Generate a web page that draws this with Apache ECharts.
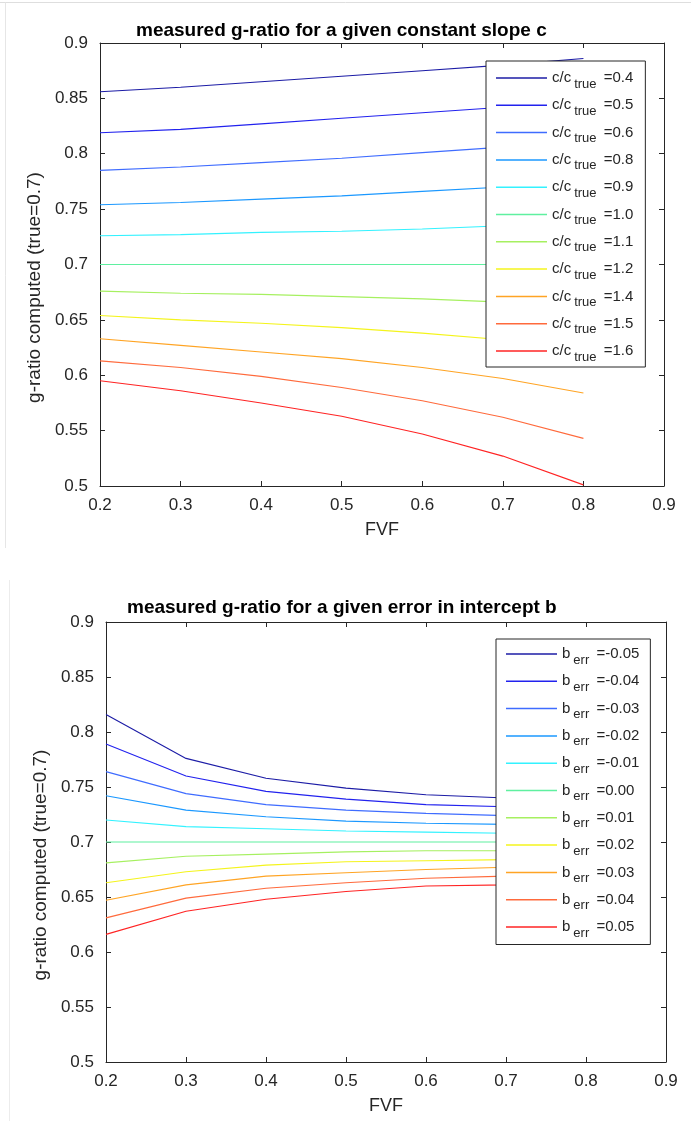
<!DOCTYPE html>
<html>
<head>
<meta charset="utf-8">
<title>measured g-ratio</title>
<script src="https://cdn.jsdelivr.net/npm/echarts@6/dist/echarts.min.js"></script>
<style>
  html, body { margin: 0; padding: 0; background: #fff; }
  #chart { width: 691px; height: 1121px; }
</style>
</head>
<body>
<div id="chart"></div>
<script>
// x positions (FVF) shared by both panels
const fvf = [0.2, 0.3, 0.4, 0.5, 0.6, 0.7, 0.8]
const xTicks = [0.2, 0.3, 0.4, 0.5, 0.6, 0.7, 0.8, 0.9]
const yTicks = [0.5, 0.55, 0.6, 0.65, 0.7, 0.75, 0.8, 0.85, 0.9]

// top panel: constant slope c
const slopeLabels = ['0.4', '0.5', '0.6', '0.8', '0.9', '1.0', '1.1', '1.2', '1.4', '1.5', '1.6']
const slopeValues = [
  [0.856, 0.860, 0.865, 0.870, 0.875, 0.880, 0.886],
  [0.819, 0.822, 0.827, 0.832, 0.837, 0.842, 0.848],
  [0.785, 0.788, 0.792, 0.796, 0.801, 0.806, 0.811],
  [0.754, 0.756, 0.759, 0.762, 0.766, 0.770, 0.774],
  [0.726, 0.727, 0.729, 0.730, 0.732, 0.735, 0.737],
  [0.700, 0.700, 0.700, 0.700, 0.700, 0.700, 0.700],
  [0.676, 0.674, 0.673, 0.671, 0.669, 0.666, 0.663],
  [0.654, 0.650, 0.647, 0.643, 0.638, 0.632, 0.626],
  [0.633, 0.627, 0.621, 0.615, 0.607, 0.597, 0.584],
  [0.613, 0.607, 0.599, 0.589, 0.577, 0.562, 0.543],
  [0.595, 0.586, 0.575, 0.563, 0.547, 0.527, 0.501]
]

// bottom panel: error in intercept b
const interceptLabels = ['-0.05', '-0.04', '-0.03', '-0.02', '-0.01', '0.00', '0.01', '0.02', '0.03', '0.04', '0.05']
const interceptValues = [
  [0.816, 0.776, 0.758, 0.749, 0.743, 0.740, 0.737],
  [0.789, 0.760, 0.746, 0.739, 0.734, 0.732, 0.730],
  [0.764, 0.744, 0.734, 0.729, 0.726, 0.724, 0.723],
  [0.742, 0.729, 0.723, 0.719, 0.717, 0.716, 0.715],
  [0.720, 0.714, 0.712, 0.710, 0.709, 0.708, 0.707],
  [0.700, 0.700, 0.700, 0.700, 0.700, 0.700, 0.700],
  [0.681, 0.687, 0.689, 0.691, 0.692, 0.692, 0.693],
  [0.663, 0.673, 0.679, 0.682, 0.683, 0.684, 0.685],
  [0.647, 0.661, 0.669, 0.672, 0.675, 0.677, 0.678],
  [0.631, 0.649, 0.658, 0.663, 0.667, 0.669, 0.671],
  [0.616, 0.637, 0.648, 0.655, 0.660, 0.661, 0.663]
]

// jet-like colours, one per curve
const jetColors = ['#1c1ca6', '#2222ee', '#3f6cff', '#1b98ff', '#33f2ff', '#5ff0a0',
  '#a6f060', '#f4f41c', '#ffa424', '#ff6a3c', '#ff2424']

const font = '"Liberation Sans", Arial, sans-serif'
const ink = '#262626'

const chart = echarts.init(document.getElementById('chart'))

function xAxes(gridIndex) {
  const base = {
    gridIndex: gridIndex,
    type: 'value',
    min: xTicks[0],
    max: xTicks[xTicks.length - 1],
    interval: 0.1,
    axisLine: { lineStyle: { color: ink, width: 1 } },
    axisTick: { inside: true, length: 5, lineStyle: { color: ink } },
    splitLine: { show: false }
  }
  return [
    Object.assign({}, base, {
      position: 'bottom',
      axisLabel: { color: ink, fontSize: 17, fontFamily: font, margin: 11 },
      name: 'FVF',
      nameLocation: 'middle',
      nameGap: 35,
      nameTextStyle: { color: ink, fontSize: 18, fontFamily: font }
    }),
    Object.assign({}, base, { position: 'top', axisLabel: { show: false } })
  ]
}

function yAxes(gridIndex, nameGap) {
  const base = {
    gridIndex: gridIndex,
    type: 'value',
    min: yTicks[0],
    max: yTicks[yTicks.length - 1],
    interval: 0.05,
    axisLine: { show: true, lineStyle: { color: ink, width: 1 } },
    axisTick: { show: true, inside: true, length: 5, lineStyle: { color: ink } },
    splitLine: { show: false }
  }
  return [
    Object.assign({}, base, {
      position: 'left',
      axisLabel: { color: ink, fontSize: 17, fontFamily: font, margin: 12 },
      name: 'g-ratio computed (true=0.7)',
      nameLocation: 'middle',
      nameGap: nameGap,
      nameTextStyle: { color: ink, fontSize: 19, fontFamily: font, padding: [0, 46, 0, 0] }
    }),
    Object.assign({}, base, { position: 'right', axisLabel: { show: false } })
  ]
}

function lineSeries(names, values, axisIndex) {
  return values.map((row, i) => ({
    name: names[i],
    type: 'line',
    xAxisIndex: axisIndex,
    yAxisIndex: axisIndex,
    symbol: 'none',
    color: jetColors[i],
    lineStyle: { width: 1.1, color: jetColors[i] },
    data: row.map((v, k) => [fvf[k], v])
  }))
}

const richText = {
  m: { fontSize: 15, fontFamily: font, color: ink },
  s: { fontSize: 13, fontFamily: font, color: ink, padding: [12, 3, 0, 3] }
}

function legendBox(names, left, top, main, sub, padding) {
  return {
    orient: 'vertical',
    left: left,
    top: top,
    data: names,
    icon: 'rect',
    itemWidth: 51,
    itemHeight: 1.5,
    itemGap: 7.3,
    padding: padding,
    backgroundColor: '#fff',
    borderColor: ink,
    borderWidth: 1,
    borderRadius: 0,
    textStyle: { rich: richText },
    formatter: name => '{m|' + main + '}{s|' + sub + '}{m| =' + name.split('=')[1] + '}'
  }
}

const slopeNames = slopeLabels.map(l => 'c/c true =' + l)
const interceptNames = interceptLabels.map(l => 'b err =' + l)

chart.setOption({
  animation: false,
  backgroundColor: '#fff',
  title: [
    {
      text: 'measured g-ratio for a given constant slope c',
      left: 136,
      top: 21,
      padding: 0,
      textStyle: { fontSize: 19, fontWeight: 'bold', color: '#000', fontFamily: font }
    },
    {
      text: 'measured g-ratio for a given error in intercept b',
      left: 127,
      top: 598,
      padding: 0,
      textStyle: { fontSize: 19, fontWeight: 'bold', color: '#000', fontFamily: font }
    }
  ],
  grid: [
    { left: 100, top: 43, width: 564, height: 443 },
    { left: 106, top: 622, width: 560, height: 440 }
  ],
  xAxis: xAxes(0).concat(xAxes(1)),
  yAxis: yAxes(0, 43).concat(yAxes(1, 45)),
  legend: [
    legendBox(slopeNames, 486, 61, 'c/c', 'true', [9.5, 12, 3.5, 10]),
    legendBox(interceptNames, 496, 639, 'b', 'err', [7.5, 11, 5, 10])
  ],
  series: lineSeries(slopeNames, slopeValues, 0).concat(lineSeries(interceptNames, interceptValues, 2)),
  // faint frame of the original screenshot
  graphic: [
    { type: 'line', shape: { x1: 0, y1: 2.5, x2: 691, y2: 2.5 }, style: { stroke: '#dedede', lineWidth: 1 } },
    { type: 'line', shape: { x1: 5.5, y1: 2.5, x2: 5.5, y2: 548 }, style: { stroke: '#e6e6e6', lineWidth: 1 } },
    { type: 'line', shape: { x1: 9.5, y1: 580, x2: 9.5, y2: 1121 }, style: { stroke: '#ececec', lineWidth: 1 } }
  ]
})
</script>
</body>
</html>
